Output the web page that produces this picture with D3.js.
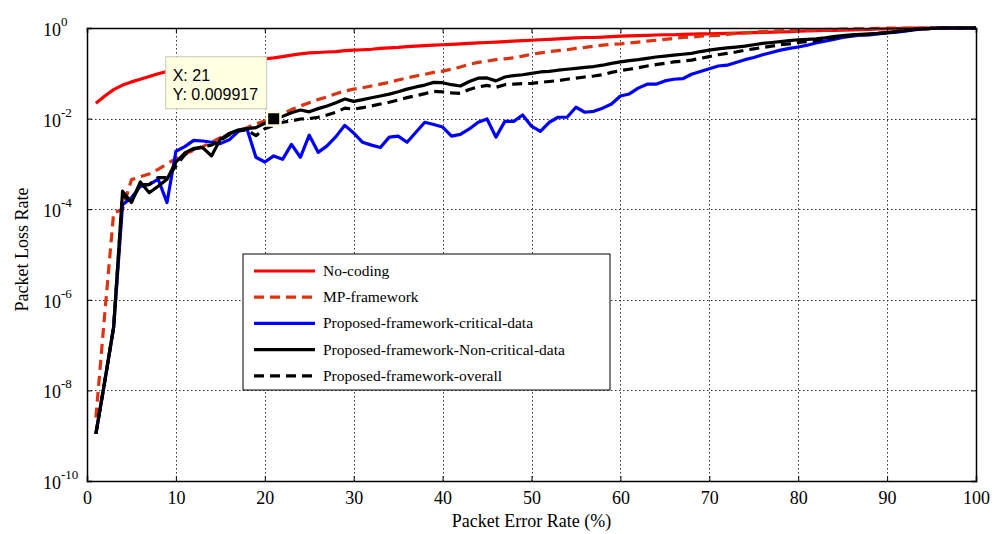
<!DOCTYPE html>
<html>
<head>
<meta charset="utf-8">
<script src="https://cdn.jsdelivr.net/npm/d3@7"></script>
<style>
 body{margin:0;background:#fff}
 text{font-family:"Liberation Serif","Times New Roman",serif;fill:#000}
</style>
</head>
<body>
<svg id="chart" width="994" height="534"></svg>
<script>
// packet error rate (%) sampled at every integer step
const errorRate=d3.range(1,101);
const noCoding=[
 0.0219,0.0316,0.0437,0.055,0.0646,0.0741,0.0851,0.0977,0.110,0.120,
 0.129,0.138,0.148,0.158,0.166,0.174,0.182,0.191,0.200,0.209,
 0.219,0.234,0.251,0.269,0.282,0.288,0.295,0.302,0.316,0.324,
 0.331,0.339,0.355,0.363,0.372,0.389,0.398,0.407,0.417,0.427,
 0.437,0.447,0.457,0.468,0.479,0.490,0.501,0.513,0.525,0.537,
 0.550,0.562,0.575,0.589,0.603,0.617,0.617,0.631,0.646,0.661,
 0.67,0.68,0.69,0.70,0.71,0.71,0.72,0.73,0.74,0.74,
 0.75,0.76,0.77,0.78,0.79,0.80,0.81,0.82,0.83,0.85,
 0.86,0.87,0.88,0.89,0.90,0.91,0.92,0.93,0.95,0.96,
 0.97,0.98,0.99,1,1,1,1,1,1,1];
const mpFramework=[
 2.5e-9,5.0e-7,8.3e-5,1.0e-4,4.5e-4,5.2e-4,6.0e-4,7.6e-4,1.0e-3,1.3e-3,
 1.66e-3,2.0e-3,2.4e-3,3.0e-3,3.8e-3,4.6e-3,5.4e-3,6.3e-3,7.6e-3,8.9e-3,
 9.917e-3,1.26e-2,1.58e-2,1.9e-2,2.24e-2,2.63e-2,3.0e-2,3.55e-2,4.07e-2,4.47e-2,
 4.8e-2,5.25e-2,5.75e-2,6.3e-2,7.1e-2,7.9e-2,8.7e-2,9.5e-2,0.105,0.112,
 0.123,0.138,0.158,0.174,0.186,0.200,0.209,0.219,0.240,0.263,
 0.282,0.302,0.316,0.331,0.355,0.372,0.398,0.417,0.437,0.447,
 0.468,0.490,0.513,0.537,0.562,0.589,0.617,0.631,0.661,0.676,
 0.69,0.72,0.76,0.78,0.81,0.83,0.85,0.87,0.88,0.89,
 0.90,0.91,0.92,0.93,0.94,0.95,0.96,0.97,0.98,0.99,
 0.99,1,1,1,1,1,1,1,1,1];
const criticalData=[
 1.1e-9,1.6e-8,2.5e-7,1.26e-4,1.8e-4,3.2e-4,3.5e-4,4.6e-4,1.4e-4,1.9e-3,
 2.4e-3,3.3e-3,3.2e-3,3.0e-3,2.8e-3,3.4e-3,5.2e-3,5.9e-3,1.4e-3,1.1e-3,
 1.5e-3,1.26e-3,2.7e-3,1.4e-3,4.3e-3,1.8e-3,2.5e-3,4.0e-3,7.1e-3,4.8e-3,
 3.0e-3,2.6e-3,2.3e-3,3.9e-3,4.1e-3,3.0e-3,5.0e-3,8.3e-3,7.4e-3,6.5e-3,
 4.1e-3,4.5e-3,5.9e-3,8.3e-3,9.8e-3,3.9e-3,8.7e-3,8.7e-3,1.2e-2,6.8e-3,
 5.2e-3,8.3e-3,1.07e-2,1.07e-2,1.78e-2,1.38e-2,1.45e-2,1.7e-2,2.1e-2,3.16e-2,
 3.5e-2,4.7e-2,5.75e-2,5.75e-2,6.8e-2,7.4e-2,7.6e-2,9.5e-2,0.110,0.126,
 0.145,0.151,0.174,0.200,0.224,0.257,0.288,0.324,0.355,0.380,
 0.417,0.468,0.513,0.562,0.617,0.661,0.692,0.708,0.741,0.776,
 0.81,0.85,0.91,0.95,0.98,1,1,1,1,1];
const nonCriticalData=[
 1.1e-9,1.6e-8,2.5e-7,2.5e-4,1.4e-4,4.0e-4,2.3e-4,3.2e-4,4.6e-4,1.1e-3,
 1.74e-3,2.2e-3,2.3e-3,1.5e-3,3.5e-3,4.7e-3,5.6e-3,6.0e-3,6.3e-3,7.9e-3,
 9.3e-3,1.12e-2,1.35e-2,1.55e-2,1.41e-2,1.66e-2,1.9e-2,2.24e-2,2.7e-2,2.4e-2,
 2.63e-2,2.88e-2,3.16e-2,3.47e-2,3.9e-2,4.47e-2,5.0e-2,5.5e-2,6.3e-2,6.2e-2,
 5.6e-2,5.25e-2,6.6e-2,7.8e-2,7.9e-2,6.8e-2,8.3e-2,8.9e-2,9.3e-2,0.100,
 0.107,0.110,0.117,0.123,0.129,0.135,0.141,0.151,0.166,0.178,
 0.19,0.20,0.214,0.229,0.240,0.251,0.263,0.275,0.302,0.324,
 0.347,0.363,0.380,0.398,0.427,0.457,0.479,0.501,0.525,0.550,
 0.562,0.575,0.603,0.646,0.676,0.708,0.724,0.741,0.759,0.794,
 0.83,0.87,0.93,0.95,0.98,1,1,1,1,1];
const overall=[
 1.1e-9,1.6e-8,2.5e-7,2.0e-4,1.5e-4,3.5e-4,3.5e-4,5.0e-4,5.0e-4,8.9e-4,
 1.6e-3,2.1e-3,2.4e-3,2.6e-3,3.3e-3,4.4e-3,5.5e-3,5.6e-3,4.2e-3,6.0e-3,
 7.1e-3,8.3e-3,8.9e-3,9.8e-3,1.0e-2,1.07e-2,1.2e-2,1.38e-2,1.7e-2,1.62e-2,
 1.74e-2,1.9e-2,2.1e-2,2.3e-2,2.57e-2,2.9e-2,3.2e-2,3.55e-2,3.98e-2,3.9e-2,
 3.7e-2,3.6e-2,4.4e-2,5.0e-2,5.4e-2,4.9e-2,5.6e-2,5.75e-2,5.9e-2,6.0e-2,
 6.3e-2,6.6e-2,6.9e-2,7.4e-2,7.8e-2,8.3e-2,8.7e-2,9.3e-2,0.105,0.115,
 0.123,0.132,0.145,0.155,0.166,0.178,0.186,0.195,0.214,0.234,
 0.257,0.275,0.295,0.324,0.347,0.372,0.398,0.427,0.447,0.479,
 0.50,0.525,0.562,0.603,0.646,0.676,0.708,0.724,0.759,0.794,
 0.83,0.87,0.93,0.95,0.98,1,1,1,1,1];
const xTicks=[0,10,20,30,40,50,60,70,80,90,100];
const yExponents=[0,-2,-4,-6,-8,-10];
const seriesNames=["No-coding","MP-framework","Proposed-framework-critical-data","Proposed-framework-Non-critical-data","Proposed-framework-overall"];
const datatip={x:21,y:0.009917};

const series=[
 {name:seriesNames[0],values:noCoding,color:"#ff0000",dash:null},
 {name:seriesNames[1],values:mpFramework,color:"#dd3310",dash:"10,6"},
 {name:seriesNames[2],values:criticalData,color:"#0000ff",dash:null},
 {name:seriesNames[3],values:nonCriticalData,color:"#000000",dash:null},
 {name:seriesNames[4],values:overall,color:"#000000",dash:"10,6"}];

const svg=d3.select("#chart");
const plot={left:87,right:976,top:28,bottom:481};
const x=d3.scaleLinear().domain([0,100]).range([plot.left,plot.right]);
const y=d3.scaleLog().domain([1e-10,1]).range([plot.bottom,plot.top]);
const yTicks=yExponents.map(e=>Math.pow(10,e));

// dotted grid
const grid=svg.append("g").attr("stroke","#333").attr("stroke-width",1).attr("stroke-dasharray","1.5,2.5");
grid.selectAll("line.v").data(xTicks.slice(1,-1)).join("line").attr("class","v")
 .attr("x1",d=>Math.round(x(d))+0.5).attr("x2",d=>Math.round(x(d))+0.5).attr("y1",plot.top).attr("y2",plot.bottom);
grid.selectAll("line.h").data(yTicks.slice(1,-1)).join("line").attr("class","h")
 .attr("y1",d=>Math.round(y(d))+0.5).attr("y2",d=>Math.round(y(d))+0.5).attr("x1",plot.left).attr("x2",plot.right);

// curves
svg.append("clipPath").attr("id","clip").append("rect")
 .attr("x",plot.left).attr("y",plot.top-2).attr("width",plot.right-plot.left).attr("height",plot.bottom-plot.top+2);
const line=d3.line().x((d,i)=>x(errorRate[i])).y(d=>y(d));
svg.append("g").attr("clip-path","url(#clip)").selectAll("path").data(series).join("path")
 .attr("d",d=>line(d.values)).attr("fill","none").attr("stroke",d=>d.color)
 .attr("stroke-width",3.2).attr("stroke-dasharray",d=>d.dash).attr("stroke-linejoin","round");

// axes (ticks inside, MATLAB box)
const bottom=svg.append("g").attr("transform",`translate(0,${plot.bottom})`)
 .call(d3.axisBottom(x).tickValues(xTicks).tickSize(-5).tickPadding(10));
svg.append("g").attr("transform",`translate(0,${plot.top})`)
 .call(d3.axisTop(x).tickValues(xTicks).tickSize(-5).tickFormat(""));
svg.append("g").attr("transform",`translate(${plot.left},0)`)
 .call(d3.axisLeft(y).tickValues(yTicks).tickSize(-5).tickFormat(""));
svg.append("g").attr("transform",`translate(${plot.right},0)`)
 .call(d3.axisRight(y).tickValues(yTicks).tickSize(-5).tickFormat(""));
svg.selectAll(".domain").attr("stroke","#000").attr("stroke-width",1.5);
svg.selectAll(".tick line").attr("stroke","#000");
bottom.selectAll("text").style("font-family","'Liberation Serif',serif").style("font-size","18px");

// y labels 10^e
const ylab=svg.append("g").selectAll("text").data(yExponents).join("text")
 .attr("x",43).attr("y",e=>y(Math.pow(10,e))+8).style("font-size","18px").text("10");
ylab.append("tspan").attr("dy",-10).style("font-size","13px").text(e=>e);

svg.append("text").attr("x",(plot.left+plot.right)/2).attr("y",527).attr("text-anchor","middle")
 .style("font-size","18px").text("Packet Error Rate (%)");
svg.append("text").attr("transform",`translate(28,${(plot.top+plot.bottom)/2-5}) rotate(-90)`)
 .attr("text-anchor","middle").style("font-size","18px").text("Packet Loss Rate");

// legend
const legend=svg.append("g").attr("transform","translate(243,254)");
legend.append("rect").attr("width",367).attr("height",136).attr("fill","#fff").attr("stroke","#000").attr("stroke-width",1);
const item=legend.selectAll("g").data(series).join("g").attr("transform",(d,i)=>`translate(0,${17+i*26.2})`);
item.append("line").attr("x1",11).attr("x2",72).attr("stroke",d=>d.color).attr("stroke-width",3.2).attr("stroke-dasharray",d=>d.dash);
item.append("text").attr("x",80).attr("y",5).style("font-size","15.5px").text(d=>d.name);

// datatip
const mx=x(datatip.x),my=y(datatip.y);
const tip=svg.append("g");
tip.append("rect").attr("x",mx-108).attr("y",my-62).attr("width",101).attr("height",52)
 .attr("fill","#ffffe1").attr("stroke","#c8c8b8");
tip.selectAll("text").data([`X: ${datatip.x}`,`Y: ${datatip.y}`]).join("text")
 .attr("x",mx-101).attr("y",(d,i)=>my-38+i*19).style("font-family","'Liberation Sans',Arial,sans-serif").style("font-size","16px").text(d=>d);
tip.append("rect").attr("x",mx-8).attr("y",my-8).attr("width",16).attr("height",16).attr("fill","#ffffe1");
tip.append("rect").attr("x",mx-5.5).attr("y",my-5.5).attr("width",11).attr("height",11).attr("fill","#000");
</script>
</body>
</html>
